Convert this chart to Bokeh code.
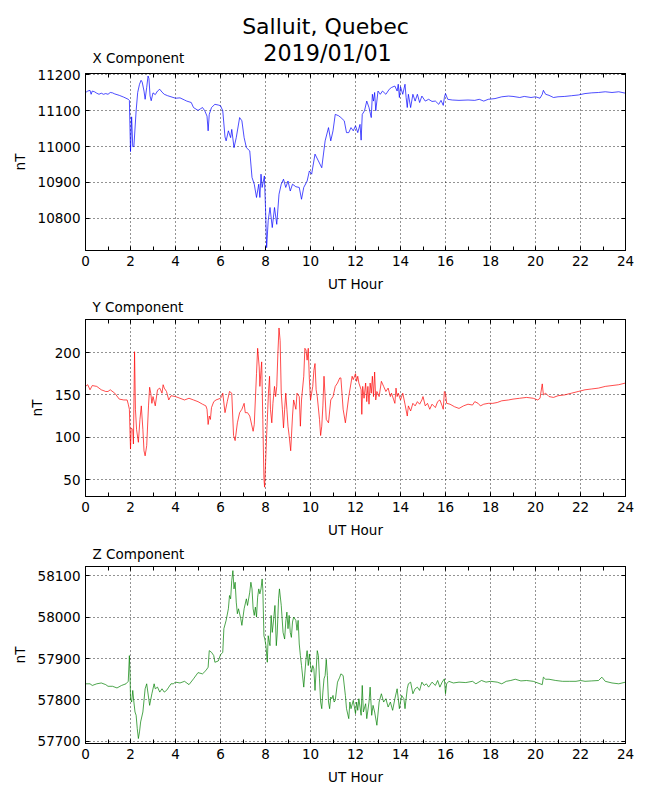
from bokeh.plotting import figure
from bokeh.models import (Range1d, LinearAxis, SingleIntervalTicker, Label,
                          CustomJSTickFormatter, ColumnDataSource)
from bokeh.layouts import column
from bokeh.embed import file_html
from bokeh.resources import INLINE

FONT = "DejaVu Sans"

station_title = "Salluit, Quebec"
date_title = "2019/01/01"

x_hours = [0.0, 0.1, 0.2, 0.25, 0.3, 0.4, 0.5, 0.6, 0.7, 0.8, 0.9, 1.0, 1.1, 1.2, 1.3, 1.5, 1.7, 1.9, 1.95,
           2.0, 2.05, 2.1, 2.15, 2.25, 2.32, 2.4, 2.47, 2.52, 2.6, 2.65, 2.72, 2.78, 2.82, 2.87, 2.92,
           3.0, 3.1, 3.2, 3.3, 3.4, 3.5, 3.65, 3.8, 4.0, 4.2, 4.4, 4.5, 4.7, 4.8, 5.0, 5.1, 5.2, 5.3,
           5.4, 5.45, 5.5, 5.6, 5.75, 5.9, 6.0, 6.1, 6.2, 6.25, 6.35, 6.45, 6.5, 6.6, 6.7, 6.85, 6.95,
           7.05, 7.15, 7.3, 7.4, 7.5, 7.6, 7.7, 7.75, 7.8, 7.85, 7.95, 8.0, 8.05, 8.12, 8.2, 8.3, 8.4,
           8.5, 8.6, 8.7, 8.8, 8.9, 9.0, 9.1, 9.2, 9.35, 9.5, 9.6, 9.7, 9.85, 9.95, 10.05, 10.2, 10.35,
           10.5, 10.65, 10.8, 10.9, 11.0, 11.1, 11.25, 11.35, 11.5, 11.6, 11.7, 11.8, 11.9, 12.0, 12.1,
           12.2, 12.25, 12.3, 12.4, 12.5, 12.6, 12.7, 12.75, 12.8, 12.85, 12.9, 13.0, 13.1, 13.2, 13.35,
           13.5, 13.6, 13.75, 13.85, 13.9, 13.95, 14.0, 14.1, 14.2, 14.25, 14.3, 14.35, 14.45, 14.55,
           14.65, 14.75, 14.85, 14.95, 15.1, 15.25, 15.4, 15.55, 15.7, 15.8, 15.9, 15.95, 16.0, 16.1,
           16.3, 16.6, 17.0, 17.3, 17.5, 17.7, 17.9, 18.2, 18.5, 18.8, 19.0, 19.3, 19.5, 19.8, 20.0,
           20.2, 20.3, 20.35, 20.45, 20.6, 20.8, 21.0, 21.3, 21.6, 21.9, 22.2, 22.5, 22.8, 23.1, 23.4,
           23.7, 24.0]
x_values = [11151, 11155, 11157, 11146, 11155, 11153, 11149, 11146, 11149, 11146, 11148, 11146, 11151,
            11150, 11147, 11143, 11138, 11132, 11129,
            10986, 11083, 11000, 11000, 11100, 11151, 11174, 11185, 11180, 11155, 11132, 11165, 11197,
            11190, 11141, 11128,
            11150, 11145, 11155, 11160, 11152, 11146, 11142, 11139, 11135, 11136, 11130, 11127, 11123,
            11109, 11101, 11105, 11109, 11100,
            11085, 11044, 11090, 11109, 11118, 11116, 11114, 11100, 11027, 11016, 11044, 11025, 11048,
            10997, 11025, 11081, 11072,
            11025, 10997, 10988, 10914, 10895, 10858, 10895, 10858, 10923, 10886, 10918, 10830, 10718,
            10793, 10830, 10774, 10830,
            10783, 10867, 10895, 10909, 10886, 10904, 10876, 10895, 10888, 10886, 10853, 10886, 10904,
            10932, 10923, 10979, 10960,
            10941, 11016, 11053, 11016, 11044, 11090, 11086, 11081, 11072, 11039, 11039, 11053, 11044,
            11058, 11039,
            11062, 11018, 11090, 11100, 11127, 11109, 11081, 11146, 11127, 11151, 11100, 11155, 11146,
            11155, 11146,
            11160, 11165, 11169, 11155, 11174, 11137, 11167, 11146, 11174, 11137, 11109, 11146, 11109,
            11146,
            11127, 11146, 11123, 11141, 11127, 11132, 11126, 11127, 11118, 11129, 11115, 11137, 11148,
            11132,
            11130, 11129, 11130, 11129, 11132, 11127, 11132, 11134, 11139, 11141, 11140, 11137, 11140,
            11137, 11139,
            11135, 11146, 11157, 11146, 11143, 11137, 11139, 11140, 11142, 11144, 11148, 11150, 11151,
            11153, 11151,
            11153, 11149]

y_hours = [0.0, 0.1, 0.2, 0.3, 0.5, 0.7, 0.9, 1.0, 1.1, 1.3, 1.5, 1.7, 1.85, 1.9, 1.95, 2.0, 2.03, 2.1,
           2.13, 2.18, 2.22, 2.27, 2.35, 2.42, 2.48, 2.55, 2.6, 2.65, 2.72, 2.8, 2.85, 2.9, 2.95, 3.0,
           3.1, 3.2, 3.3, 3.4, 3.45, 3.5, 3.6, 3.7, 3.8, 4.0, 4.2, 4.4, 4.6, 4.8, 5.0, 5.2, 5.35, 5.4,
           5.45, 5.5, 5.55, 5.6, 5.7, 5.8, 6.0, 6.05, 6.1, 6.2, 6.3, 6.4, 6.5, 6.58, 6.65, 6.75, 6.85,
           6.95, 7.05, 7.1, 7.2, 7.3, 7.45, 7.5, 7.6, 7.65, 7.72, 7.75, 7.8, 7.83, 7.88, 7.93, 7.96,
           8.0, 8.05, 8.1, 8.13, 8.18, 8.22, 8.28, 8.33, 8.4, 8.45, 8.5, 8.55, 8.6, 8.65, 8.7, 8.75,
           8.8, 8.85, 8.9, 8.95, 9.0, 9.05, 9.12, 9.2, 9.25, 9.35, 9.4, 9.5, 9.55, 9.6, 9.7, 9.75, 9.8,
           9.85, 9.9, 9.95, 10.0, 10.05, 10.1, 10.15, 10.2, 10.25, 10.3, 10.4, 10.45, 10.5, 10.55,
           10.6, 10.65, 10.7, 10.8, 10.9, 11.0, 11.1, 11.2, 11.3, 11.35, 11.45, 11.55, 11.7, 11.85,
           11.9, 12.0, 12.05, 12.1, 12.15, 12.25, 12.28, 12.32, 12.38, 12.45, 12.5, 12.55, 12.6, 12.65,
           12.7, 12.75, 12.8, 12.85, 12.9, 12.95, 13.05, 13.15, 13.25, 13.35, 13.45, 13.55, 13.6,
           13.7, 13.75, 13.8, 13.85, 13.9, 14.0, 14.1, 14.2, 14.3, 14.35, 14.45, 14.55, 14.65, 14.75,
           14.85, 14.95, 15.0, 15.1, 15.2, 15.3, 15.4, 15.55, 15.65, 15.75, 15.85, 15.9, 15.95, 16.0,
           16.05, 16.2, 16.4, 16.6, 16.8, 17.0, 17.2, 17.3, 17.45, 17.55, 17.7, 17.9, 18.1, 18.3, 18.5,
           18.8, 19.0, 19.3, 19.6, 19.9, 20.1, 20.2, 20.3, 20.35, 20.45, 20.6, 20.8, 21.0, 21.3, 21.6,
           21.9, 22.2, 22.5, 22.8, 23.1, 23.4, 23.7, 24.0]
y_values = [160, 162, 156, 161, 160, 156, 154, 154, 156, 152, 145, 144, 144, 139, 133, 86, 111, 109,
            92, 201, 133, 109, 94, 121, 137, 109, 84, 78, 90, 137, 159, 152, 140, 148,
            137, 156, 158, 152, 162, 158, 154, 144, 149, 148, 146, 144, 146, 144, 142, 139, 137, 133,
            115, 125, 121, 135, 142, 144, 146, 148, 152, 129, 142, 154, 152, 102, 96, 117, 129,
            133, 140, 129, 129, 125, 107, 115, 175, 205, 183, 160, 179, 189, 121, 51, 41,
            67, 102, 133, 152, 172, 133, 117, 140, 160, 148, 160, 199, 229, 214, 152, 133,
            111, 133, 152, 133, 113, 102, 84, 125, 144, 133, 152, 148, 113, 144, 172, 205, 203,
            191, 205, 168, 144, 152, 160, 179, 187, 156, 148, 121, 102, 113, 137,
            172, 148, 121, 117, 144, 148, 160, 164, 170, 170, 133, 117, 148, 172,
            168, 175, 166, 172, 164, 156, 127, 160, 146, 164, 142, 160, 139, 164,
            152, 172, 148, 177, 144, 154, 148, 166, 160, 154, 158, 148, 152,
            144, 140, 158, 148, 152, 144, 152, 139, 125, 137, 131, 140, 137, 142,
            139, 144, 148, 137, 140, 133, 139, 135, 142, 144, 137, 133, 154, 152,
            140, 139, 136, 134, 137, 139, 138, 142, 140, 137, 139, 140, 140, 141, 143,
            144, 145, 146, 147, 146, 144, 146, 163, 150, 152, 148, 147, 149, 150, 152,
            154, 156, 157, 158, 160, 161, 162, 164]

z_hours = [0.0, 0.2, 0.3, 0.5, 0.7, 0.9, 1.0, 1.2, 1.4, 1.6, 1.8, 1.9, 1.95, 1.98, 2.0, 2.05, 2.1, 2.15,
           2.2, 2.25, 2.3, 2.35, 2.4, 2.45, 2.55, 2.65, 2.72, 2.8, 2.85, 2.95, 3.05, 3.1, 3.2, 3.3, 3.4,
           3.5, 3.6, 3.7, 3.8, 3.9, 4.0, 4.2, 4.4, 4.6, 4.8, 5.0, 5.2, 5.35, 5.45, 5.5, 5.6, 5.7, 5.75,
           5.9, 6.0, 6.1, 6.15, 6.25, 6.35, 6.4, 6.45, 6.5, 6.55, 6.6, 6.65, 6.7, 6.75, 6.8, 6.9, 6.95,
           7.05, 7.15, 7.2, 7.3, 7.35, 7.4, 7.45, 7.5, 7.55, 7.6, 7.65, 7.7, 7.75, 7.8, 7.85, 7.88,
           7.93, 7.97, 8.02, 8.08, 8.12, 8.17, 8.2, 8.25, 8.3, 8.35, 8.42, 8.48, 8.52, 8.58, 8.62,
           8.7, 8.78, 8.85, 8.9, 8.95, 9.0, 9.05, 9.1, 9.15, 9.2, 9.25, 9.35, 9.4, 9.45, 9.5, 9.55,
           9.6, 9.7, 9.8, 9.85, 9.9, 9.95, 10.0, 10.05, 10.1, 10.15, 10.2, 10.3, 10.35, 10.4, 10.45,
           10.5, 10.55, 10.6, 10.65, 10.7, 10.75, 10.8, 10.85, 10.9, 10.95, 11.0, 11.05, 11.1, 11.2,
           11.3, 11.35, 11.45, 11.55, 11.6, 11.7, 11.75, 11.8, 11.9, 12.0, 12.05, 12.1, 12.15, 12.25,
           12.3, 12.35, 12.45, 12.5, 12.6, 12.65, 12.72, 12.78, 12.85, 12.95, 13.05, 13.15, 13.25,
           13.35, 13.45, 13.55, 13.65, 13.75, 13.85, 13.95, 14.05, 14.15, 14.2, 14.3, 14.35, 14.45,
           14.55, 14.65, 14.75, 14.85, 14.95, 15.05, 15.15, 15.25, 15.4, 15.55, 15.65, 15.75, 15.85,
           15.95, 16.0, 16.05, 16.15, 16.35, 16.6, 16.9, 17.2, 17.35, 17.6, 17.8, 18.0, 18.3, 18.5,
           18.7, 18.9, 19.1, 19.35, 19.6, 19.9, 20.2, 20.3, 20.35, 20.45, 20.6, 20.9, 21.2, 21.5,
           21.8, 22.0, 22.2, 22.5, 22.8, 22.95, 23.1, 23.4, 23.7, 24.0]
z_values = [57839, 57839, 57835, 57839, 57841, 57837, 57833, 57833, 57829, 57835, 57839, 57845, 57907,
            57859, 57803, 57795, 57823, 57795,
            57771, 57763, 57731, 57707, 57723, 57747, 57771, 57827, 57839, 57807, 57787, 57815, 57839,
            57827, 57831, 57819, 57827,
            57819, 57823, 57831, 57839, 57839, 57843, 57841, 57845, 57837, 57851, 57866, 57863, 57871,
            57879, 57919, 57915, 57907, 57891,
            57894, 57909, 57915, 57972, 57992, 58020, 58052, 58044, 58088, 58112, 58068, 58084, 58036,
            58008, 58020, 57996, 57980,
            58020, 58044, 58028, 58060, 58084, 58068, 58020, 58004, 58024, 58000, 58048, 58068, 58056,
            58068, 58092, 58068,
            57955, 57947, 57931, 57891, 57955, 57939, 57931, 58004, 57963, 57988, 58028, 57931, 57959,
            58044, 58068,
            58028, 57963, 57947, 57988, 58012, 57972, 58004, 57963, 57951, 57988, 58000, 57992, 57968,
            57992, 57935, 57907,
            57883, 57831, 57899, 57919, 57883, 57911, 57883, 57867, 57883, 57875, 57823, 57919, 57907,
            57851, 57795,
            57779, 57819, 57851, 57859, 57898, 57859, 57795, 57779, 57807, 57803, 57811, 57795, 57799,
            57843,
            57855, 57863, 57859, 57811, 57779, 57755, 57795, 57779, 57799, 57767, 57795, 57775, 57803,
            57763,
            57835, 57771, 57791, 57755, 57795, 57831, 57763, 57787, 57771, 57739, 57795, 57815, 57795,
            57803, 57783, 57795, 57775, 57803, 57827, 57779, 57811, 57803, 57779, 57827, 57839, 57843,
            57815, 57827, 57831, 57823, 57843, 57835, 57839, 57831, 57843, 57835, 57847, 57831, 57843,
            57851, 57815, 57839, 57845, 57841, 57843, 57842, 57845, 57839, 57847, 57843, 57845, 57843,
            57839,
            57845, 57847, 57850, 57846, 57847, 57845, 57839, 57837, 57855, 57850, 57850, 57847, 57845,
            57845,
            57845, 57847, 57845, 57846, 57847, 57855, 57845, 57841, 57839, 57843]

panels = [
    ("X Component", x_hours, x_values, "#0000ff", (10710, 11204), 100),
    ("Y Component", y_hours, y_values, "#ff0000", (30, 239), 50),
    ("Z Component", z_hours, z_values, "#008000", (57695, 58122), 100),
]

FRAME_W, FRAME_H = 540, 177
LEFT, RIGHT = 85, 17
TOP_GAP = [7, 3, 3]
HEADER_H = [66, 22, 23]
LBL = "13.5px"


def style_axis(ax, ticker, show_labels=True):
    ax.ticker = ticker
    ax.major_tick_in = 4
    ax.major_tick_out = 0
    ax.minor_tick_in = 4
    ax.minor_tick_out = 0
    ax.axis_line_color = "black"
    ax.major_tick_line_color = "black"
    ax.minor_tick_line_color = "black"
    ax.major_label_text_font = FONT
    ax.major_label_text_font_size = LBL
    ax.major_label_text_color = "black"
    ax.axis_label_text_font = FONT
    ax.axis_label_text_font_size = LBL
    ax.axis_label_text_font_style = "normal"
    ax.axis_label_text_color = "black"
    ax.axis_label_standoff = 7
    ax.major_label_standoff = 5
    if not show_labels:
        ax.formatter = CustomJSTickFormatter(code="return ''")
        ax.major_label_standoff = 0
        ax.major_label_text_font_size = "0px"


def header(height, labels):
    # same left/right borders as the panels, so the frames line up
    h = figure(frame_width=FRAME_W, frame_height=height,
               min_border_left=LEFT, min_border_right=RIGHT,
               min_border_top=0, min_border_bottom=0,
               x_range=Range1d(0, 1), y_range=Range1d(0, 1),
               x_axis_location=None, y_axis_location=None,
               output_backend="svg", toolbar_location=None)
    h.title.visible = False
    h.outline_line_color = None
    h.grid.visible = False
    h.background_fill_color = "white"
    h.border_fill_color = "white"
    for (x, y, txt, size, align) in labels:
        h.add_layout(Label(x=x, y=y, x_units="screen", y_units="screen",
                           text=txt, text_font=FONT, text_font_size=size,
                           text_color="black", text_align=align,
                           text_baseline="alphabetic"))
    return h


items = []
for i, (name, hrs, vals, color, yr, yint) in enumerate(panels):
    hh = HEADER_H[i]
    labs = [(7, 8.5 if i == 0 else 9.5, name, LBL, "left")]
    if i == 0:
        labs.append((240, 40.5, station_title, "22px", "center"))
        labs.append((242, 13.5, date_title, "22.3px", "center"))
    items.append(header(hh, labs))

    p = figure(frame_width=FRAME_W, frame_height=FRAME_H,
               min_border_left=LEFT, min_border_right=RIGHT,
               min_border_top=TOP_GAP[i], min_border_bottom=44,
               x_range=Range1d(0, 24), y_range=Range1d(*yr),
               output_backend="svg", toolbar_location=None,
               x_axis_label="UT Hour", y_axis_label="nT")
    p.title.visible = False
    p.background_fill_color = "white"
    p.border_fill_color = "white"
    p.outline_line_color = "black"
    p.outline_line_width = 1

    xt = SingleIntervalTicker(interval=2, num_minor_ticks=2)
    yt = SingleIntervalTicker(interval=yint, num_minor_ticks=0)
    style_axis(p.xaxis[0], xt)
    style_axis(p.yaxis[0], yt)

    top = LinearAxis()
    style_axis(top, SingleIntervalTicker(interval=2, num_minor_ticks=2), show_labels=False)
    p.add_layout(top, "above")
    right = LinearAxis()
    style_axis(right, SingleIntervalTicker(interval=yint, num_minor_ticks=0), show_labels=False)
    p.add_layout(right, "right")

    p.xgrid.ticker = xt
    p.ygrid.ticker = yt
    for g in (p.xgrid, p.ygrid):
        g.grid_line_color = "black"
        g.grid_line_dash = "1 3"
        g.grid_line_width = 1
        g.grid_line_alpha = 0.85

    src = ColumnDataSource(dict(h=hrs, v=vals))
    p.line("h", "v", source=src, line_color=color, line_width=0.7)
    items.append(p)

layout = column(*items, spacing=0)
open("out.html", "w").write(file_html(layout, INLINE))
